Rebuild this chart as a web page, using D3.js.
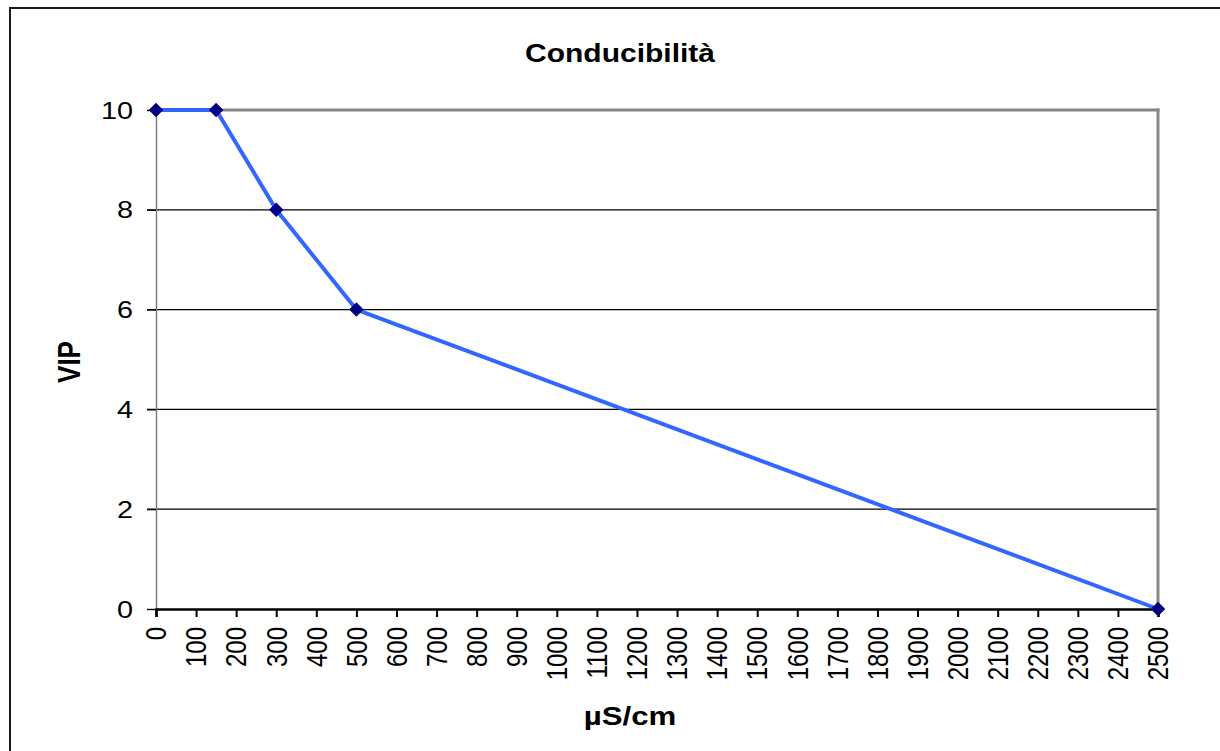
<!DOCTYPE html>
<html><head><meta charset="utf-8">
<script src="https://cdn.jsdelivr.net/npm/d3@7"></script>
<style>
html,body{margin:0;padding:0;background:#fff;}
text{font-family:"Liberation Sans",Arial,sans-serif;}
</style></head>
<body>
<svg id="c" width="1220" height="751"></svg>
<script>
const title = "Conducibilità";
const xTitle = "µS/cm";
const yTitle = "VIP";
const conductivity = [0, 150, 300, 500, 2500];
const vip = [10, 10, 8, 6, 0];
const xTicks = [0,100,200,300,400,500,600,700,800,900,1000,1100,1200,1300,1400,1500,1600,1700,1800,1900,2000,2100,2200,2300,2400,2500];
const yTicks = [0,2,4,6,8,10];

const svg = d3.select("#c");
const L = 156, R = 1158, T = 110, B = 609;
const x = d3.scaleLinear().domain([0,2500]).range([L,R]);
const y = d3.scaleLinear().domain([0,10]).range([B,T]);
const SX = 1.2;

// outer frame
svg.append("rect").attr("x",10).attr("y",8).attr("width",1240).attr("height",780)
  .attr("fill","none").attr("stroke","#1a1a1a").attr("stroke-width",2);

// gridlines
svg.append("g").selectAll("line").data(yTicks.filter(d=>d>0 && d<10)).join("line")
  .attr("x1",L-9).attr("x2",R).attr("y1",d=>y(d)).attr("y2",d=>y(d))
  .attr("stroke","#000").attr("stroke-width",1.2);

// top and right border (gray)
svg.append("line").attr("x1",L).attr("x2",R+1.5).attr("y1",y(10)).attr("y2",y(10))
  .attr("stroke","#888").attr("stroke-width",3);
svg.append("line").attr("x1",R).attr("x2",R).attr("y1",T-1.5).attr("y2",B)
  .attr("stroke","#888").attr("stroke-width",3);

// y axis
const yAxis = svg.append("g").attr("transform",`translate(${L},0)`)
  .call(d3.axisLeft(y).tickValues(yTicks).tickSize(9).tickFormat(d3.format("d")));
yAxis.select(".domain").attr("stroke","#808080").attr("stroke-width",1.5);
yAxis.selectAll(".tick line").attr("stroke","#000").attr("stroke-width",1.2);
yAxis.selectAll(".tick text").each(function(d){
  const t = d3.select(this);
  t.attr("x",null).attr("dy",null)
   .attr("transform",`translate(-23,0) scale(${SX},1)`)
   .attr("dominant-baseline","central")
   .attr("font-size",24).attr("fill","#000")
   .attr("font-family","Liberation Sans, Arial, sans-serif");
});

// x axis
const xAxis = svg.append("g").attr("transform",`translate(0,${B})`)
  .call(d3.axisBottom(x).tickValues(xTicks).tickSize(8).tickFormat(d3.format("d")));
xAxis.select(".domain").attr("stroke","#000").attr("stroke-width",2.5);
xAxis.selectAll(".tick line").attr("stroke","#000").attr("stroke-width",2);
xAxis.selectAll(".tick text").each(function(d){
  const t = d3.select(this);
  t.attr("y",null).attr("dy",null)
   .attr("transform",`translate(0,18) scale(${SX},1) rotate(-90)`)
   .attr("text-anchor","end").attr("dominant-baseline","central")
   .attr("font-size",24).attr("fill","#000")
   .attr("font-family","Liberation Sans, Arial, sans-serif");
});

// line
const pts = conductivity.map((c,i)=>[c,vip[i]]);
svg.append("path").datum(pts)
  .attr("d", d3.line().x(d=>x(d[0])).y(d=>y(d[1])))
  .attr("fill","none").attr("stroke","#3366ff").attr("stroke-width",4)
  .attr("stroke-linejoin","round");

// markers
svg.append("g").selectAll("path").data(pts).join("path")
  .attr("transform",d=>`translate(${x(d[0])},${y(d[1])})`)
  .attr("d", d3.symbol().type(d3.symbolDiamond2).size(105))
  .attr("fill","#000080").attr("stroke","#000080").attr("stroke-width",1.2);

// titles
svg.append("text").text(title)
  .attr("transform",`translate(620,62) scale(${SX},1)`)
  .attr("text-anchor","middle").attr("font-weight","bold").attr("font-size",25);
svg.append("text").text(xTitle)
  .attr("transform",`translate(630,725) scale(${SX},1)`)
  .attr("text-anchor","middle").attr("font-weight","bold").attr("font-size",26);
svg.append("text").text(yTitle)
  .attr("transform",`translate(80,362) scale(${SX},1) rotate(-90)`)
  .attr("text-anchor","middle").attr("font-weight","bold").attr("font-size",26);
</script>
</body></html>
